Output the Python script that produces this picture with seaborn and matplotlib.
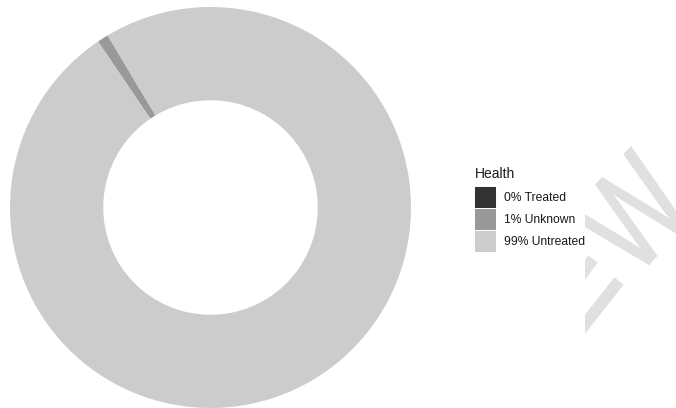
import matplotlib
matplotlib.use("Agg")
import matplotlib.pyplot as plt
import seaborn as sns
import numpy as np
from matplotlib.patches import Patch, PathPatch, Rectangle
from matplotlib.textpath import TextPath
from matplotlib.font_manager import FontProperties
from matplotlib.transforms import Affine2D, IdentityTransform
from matplotlib.lines import Line2D

# ---- data ----
categories = ["Treated", "Unknown", "Untreated"]
shares = [0.0, 0.9, 99.1]
legend_title = "Health"
colors = ["#333333", "#999999", "#CCCCCC"]

sns.set_theme(style="white")
plt.rcParams["font.family"] = ["Liberation Sans", "DejaVu Sans"]

W, H = 676, 408
fig = plt.figure(figsize=(W / 100, H / 100), dpi=100)
fig.patch.set_facecolor("white")

# ---- donut ----
cx, cy, R = 210.5, 207.5, 200.5
ax = fig.add_axes([(cx - R) / W, (H - cy - R) / H, 2 * R / W, 2 * R / H])
palette = sns.color_palette(colors)
start = 122.5 - shares[1] * 3.6 / 2
ax.pie(shares, colors=palette, startangle=start, counterclock=True,
       radius=1.0, wedgeprops=dict(width=0.465, linewidth=0, edgecolor="none"))
ax.set_xlim(-1, 1)
ax.set_ylim(-1, 1)
ax.set_aspect("equal")
ax.axis("off")

# ---- legend ----
fs = 8.7
handles = [Patch(facecolor=c, edgecolor="white", linewidth=0.7) for c in palette]
labels = [f"{round(v)}% {c}" for v, c in zip(shares, categories)]
fig.text(475 / W, 1 - 167 / H, legend_title, fontsize=10, color="#1a1a1a",
         ha="left", va="top")
hl = 22 / (fs * 100 / 72)
hh = (hl - 0.245) / 0.65
fig.legend(handles, labels, loc="upper left",
           bbox_to_anchor=(474.5 / W, 1 - 186.5 / H),
           frameon=False, fontsize=fs, borderpad=0, borderaxespad=0,
           handlelength=hl, handleheight=hh, labelspacing=0.0,
           handletextpad=0.62, labelcolor="#1a1a1a")

# ---- watermark (hatched "-W", clipped) ----
wm_color = "#e0e0e0"
clip = Rectangle((585, 0), 200, H, transform=IdentityTransform())
tp = TextPath((0, 0), "W", size=135, prop=FontProperties(family="Liberation Sans"))
ext = tp.get_extents()
ccx, ccy = (ext.x0 + ext.x1) / 2, (ext.y0 + ext.y1) / 2
tr = (Affine2D().translate(-ccx, -ccy).scale(0.74, 1.0).rotate_deg(47)
      .translate(633, H - 213))
wp = PathPatch(tr.transform_path(tp), facecolor=wm_color, edgecolor=wm_color,
               linewidth=1.2, transform=IdentityTransform())
wp.set_clip_path(clip)
fig.add_artist(wp)
for xs, ys in [([560, 619], [H - 356, H - 281]), ([570, 593], [H - 290, H - 259])]:
    ln = Line2D(xs, ys, color=wm_color, linewidth=8.5, solid_capstyle="butt",
                transform=IdentityTransform())
    ln.set_clip_path(clip)
    fig.add_artist(ln)

fig.savefig("out.png", dpi=100, facecolor="white")
